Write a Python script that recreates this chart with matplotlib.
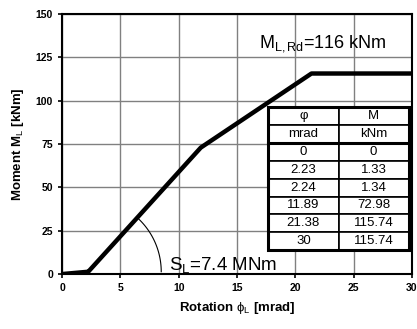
import numpy as np
import matplotlib.pyplot as plt
from matplotlib.patches import Rectangle

plt.rcParams['font.family'] = ['Liberation Sans', 'DejaVu Sans']
plt.rcParams['mathtext.fontset'] = 'custom'
plt.rcParams['mathtext.rm'] = 'Liberation Sans'
plt.rcParams['mathtext.it'] = 'Liberation Sans'
plt.rcParams['mathtext.bf'] = 'Liberation Sans:bold'

# moment-rotation curve
phi = [0, 2.23, 2.24, 11.89, 21.38, 30]
M = [0, 1.33, 1.34, 72.98, 115.74, 115.74]
phi_txt = ['0', '2.23', '2.24', '11.89', '21.38', '30']
M_txt = ['0', '1.33', '1.34', '72.98', '115.74', '115.74']
xticks = [0, 5, 10, 15, 20, 25, 30]
yticks = [0, 25, 50, 75, 100, 125, 150]

fig = plt.figure(figsize=(4.17, 3.29), dpi=100)
ax = fig.add_axes([0.149, 0.167, 0.839, 0.79])

ax.plot(phi, M, color='black', lw=3.2, solid_capstyle='butt', zorder=3)

ax.set_xlim(0, 30)
ax.set_ylim(0, 150)
ax.set_xticks(xticks)
ax.set_yticks(yticks)
ax.grid(True, color='#808080', lw=1.0)
ax.set_axisbelow(True)
for s in ax.spines.values():
    s.set_linewidth(1.5)
ax.tick_params(direction='out', length=3, width=1.2, labelsize=7.5)
for lab in ax.get_xticklabels() + ax.get_yticklabels():
    lab.set_fontweight('bold')

ax.set_xlabel(r'Rotation $\phi_L$ [mrad]', fontsize=9.5, fontweight='bold', labelpad=5)
ax.set_ylabel(r'Moment M$_L$ [kNm]', fontsize=9.5, fontweight='bold', labelpad=7)

# stiffness arc (circle in pixel space)
px = 350 / 30.0
py = 260 / 150.0
x0, y0 = phi[2], M[2]
ang = np.arctan2((M[3] - M[2]) * py, (phi[3] - phi[2]) * px)
t = np.linspace(0, ang, 50)
r = 73
ax.plot(x0 + r * np.cos(t) / px, y0 + r * np.sin(t) / py, color='black', lw=0.8, zorder=2)

ax.text(9.2, 2.3, r'S$_L$=7.4 MNm', fontsize=13.5, va='baseline', ha='left', zorder=4)
ax.text(16.85, 131, r'M$_{L,Rd}$=116 kNm', fontsize=13, va='baseline', ha='left', zorder=4)

rows = [['\u03c6', 'M'], ['mrad', 'kNm']] + [[a, b] for a, b in zip(phi_txt, M_txt)]
bb = [0.589, 0.092, 0.402, 0.55]
tab = ax.table(cellText=rows, cellLoc='center', bbox=bb)
tab.auto_set_font_size(False)
for (i, j), c in tab.get_celld().items():
    c.set_linewidth(1.2)
    c.set_edgecolor('black')
    c.set_facecolor('white')
    c.get_text().set_fontsize(9.5)
tab.set_zorder(5)
ax.add_patch(Rectangle((bb[0], bb[1]), bb[2], bb[3], transform=ax.transAxes,
                       fill=False, lw=2.2, ec='black', zorder=6))
yh = bb[1] + bb[3] * 6 / 8
ax.plot([bb[0], bb[0] + bb[2]], [yh, yh], transform=ax.transAxes, color='black', lw=2.2, zorder=6)

fig.savefig('out.png', dpi=100)
